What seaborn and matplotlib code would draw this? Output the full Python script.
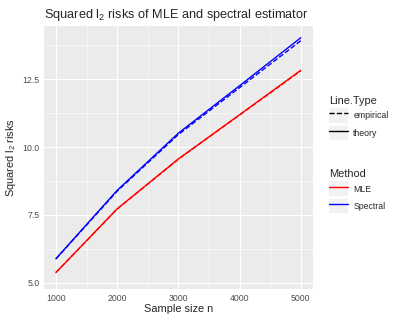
import matplotlib
matplotlib.use("Agg")
import matplotlib.pyplot as plt
from matplotlib.lines import Line2D
from matplotlib.patches import Patch
from matplotlib.legend_handler import HandlerTuple
from matplotlib.ticker import MultipleLocator
import pandas as pd
import seaborn as sns

# Data
sample_size = [1000, 2000, 3000, 4000, 5000]
mle_theory = [5.37, 7.72, 9.56, 11.19, 12.83]
mle_empirical = [5.37, 7.71, 9.55, 11.18, 12.81]
spectral_theory = [5.88, 8.40, 10.51, 12.26, 14.03]
spectral_empirical = [5.87, 8.37, 10.46, 12.19, 13.92]

rows = []
for method, ltype, vals in [
    ("MLE", "theory", mle_theory),
    ("MLE", "empirical", mle_empirical),
    ("Spectral", "theory", spectral_theory),
    ("Spectral", "empirical", spectral_empirical),
]:
    for n, v in zip(sample_size, vals):
        rows.append({"n": n, "risk": v, "Method": method, "Line.Type": ltype})
df = pd.DataFrame(rows)

sns.set_style("darkgrid", {"axes.facecolor": "#EBEBEB", "grid.color": "white"})
plt.rcParams["font.family"] = ["Liberation Sans", "DejaVu Sans"]
plt.rcParams["mathtext.fontset"] = "custom"
plt.rcParams["mathtext.rm"] = "Liberation Sans"
plt.rcParams["mathtext.it"] = "Liberation Sans"

fig = plt.figure(figsize=(3.99, 3.18), dpi=100)
ax = fig.add_axes([0.110, 0.090, 0.674, 0.828])

palette = {"MLE": "#FF0000", "Spectral": "#0000FF"}
for (method, ltype), sub in df.groupby(["Method", "Line.Type"]):
    sns.lineplot(
        data=sub, x="n", y="risk", color=palette[method], ax=ax,
        linewidth=1.0, linestyle="--" if ltype == "empirical" else "-",
        legend=False,
    )

ax.set_xlim(804, 5196)
ax.set_ylim(4.75, 14.46)
ax.xaxis.set_major_locator(MultipleLocator(1000))
ax.xaxis.set_minor_locator(MultipleLocator(500))
ax.yaxis.set_major_locator(MultipleLocator(2.5))
ax.yaxis.set_minor_locator(MultipleLocator(1.25))
ax.yaxis.set_major_formatter(matplotlib.ticker.FormatStrFormatter("%.1f"))
ax.grid(which="major", color="white", linewidth=0.8)
ax.grid(which="minor", color="white", linewidth=0.4)
for s in ax.spines.values():
    s.set_visible(False)
ax.tick_params(which="major", length=2, width=0.6, color="#333333",
               labelsize=6.3, labelcolor="#4D4D4D", pad=1.2)
ax.tick_params(which="minor", length=0)

ax.set_xlabel("Sample size n", fontsize=7.9, labelpad=1)
ax.set_ylabel(r"Squared l$_2$ risks", fontsize=7.9, labelpad=3)
ax.set_title(r"Squared l$_2$ risks of MLE and spectral estimator", fontsize=9.2,
             loc="left", x=0.0, pad=6)

# Legends (ggplot-like, grey key backgrounds)
key_bg = Patch(facecolor="#F2F2F2", edgecolor="none")
lt_handles = [
    (key_bg, Line2D([], [], color="black", linestyle="--", linewidth=1.0)),
    (key_bg, Line2D([], [], color="black", linestyle="-", linewidth=1.0)),
]
m_handles = [
    (key_bg, Line2D([], [], color="#FF0000", linewidth=1.0)),
    (key_bg, Line2D([], [], color="#0000FF", linewidth=1.0)),
]
common = dict(frameon=False, fontsize=6.3, title_fontsize=7.9, handlelength=2.2,
              handleheight=2.2, handletextpad=0.6, labelspacing=0.3,
              borderaxespad=0, alignment="left",
              handler_map={tuple: HandlerTuple(ndivide=1, pad=0)})
leg1 = fig.legend(lt_handles, ["empirical", "theory"], title="Line.Type",
                  loc="upper left", bbox_to_anchor=(0.815, 0.71), **common)
leg2 = fig.legend(m_handles, ["MLE", "Spectral"], title="Method",
                  loc="upper left", bbox_to_anchor=(0.815, 0.48), **common)

fig.savefig("out.png", dpi=100)
